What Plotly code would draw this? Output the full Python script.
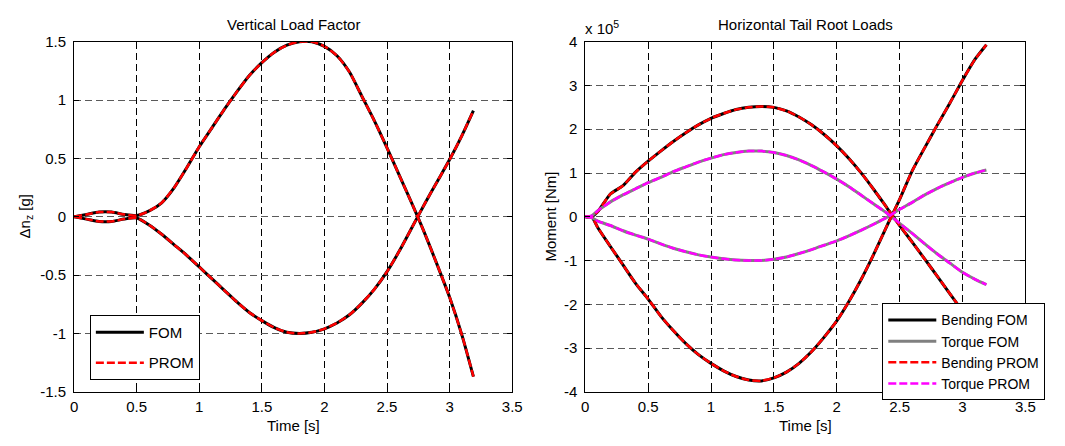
import plotly.graph_objects as go

# ---------------- data ----------------
# Left panel: vertical load factor increment [g]
t_nz = [0.0, 0.1, 0.2, 0.3, 0.4, 0.5, 0.6, 0.7, 0.8, 0.9, 1.0, 1.1, 1.2, 1.3, 1.4, 1.5,
        1.6, 1.7, 1.8, 1.9, 2.0, 2.1, 2.2, 2.3, 2.4, 2.5, 2.6, 2.7, 2.8, 2.9, 3.0, 3.1, 3.19]
nz_fom_up = [0.0, 0.02, 0.04, 0.04, 0.02, 0.01, 0.05, 0.12, 0.25, 0.42, 0.6, 0.76, 0.92, 1.07,
             1.21, 1.32, 1.41, 1.47, 1.5, 1.5, 1.46, 1.38, 1.24, 1.03, 0.82, 0.59, 0.35, 0.11,
             -0.14, -0.41, -0.69, -1.02, -1.37]
nz_fom_dn = [0.0, -0.02, -0.04, -0.04, -0.02, -0.01, -0.07, -0.15, -0.24, -0.33, -0.43, -0.53,
             -0.63, -0.73, -0.82, -0.89, -0.95, -0.99, -1.0, -0.99, -0.96, -0.91, -0.84, -0.74,
             -0.62, -0.47, -0.29, -0.09, 0.11, 0.3, 0.49, 0.7, 0.91]
nz_prom_up = [0.0, 0.02, 0.04, 0.04, 0.02, 0.01, 0.05, 0.12, 0.25, 0.42, 0.6, 0.76, 0.92, 1.07,
              1.21, 1.32, 1.41, 1.47, 1.5, 1.5, 1.46, 1.38, 1.24, 1.03, 0.82, 0.59, 0.35, 0.11,
              -0.14, -0.41, -0.69, -1.02, -1.37]
nz_prom_dn = [0.0, -0.02, -0.04, -0.04, -0.02, -0.01, -0.07, -0.15, -0.24, -0.33, -0.43, -0.53,
              -0.63, -0.73, -0.82, -0.89, -0.95, -0.99, -1.0, -0.99, -0.96, -0.91, -0.84, -0.74,
              -0.62, -0.47, -0.29, -0.09, 0.11, 0.3, 0.49, 0.7, 0.91]

# Right panel: horizontal tail root moments [x 1e5 Nm]
t_ht = [0.0, 0.05, 0.1, 0.2, 0.3, 0.4, 0.5, 0.6, 0.7, 0.8, 0.9, 1.0, 1.1, 1.2, 1.3, 1.4, 1.5,
        1.6, 1.7, 1.8, 1.9, 2.0, 2.1, 2.2, 2.3, 2.4, 2.5, 2.6, 2.7, 2.8, 2.9, 3.0, 3.1, 3.19]
bend_fom_a = [0.0, 0.0, 0.12, 0.52, 0.71, 1.02, 1.27, 1.5, 1.72, 1.92, 2.1, 2.25, 2.36, 2.45,
              2.5, 2.52, 2.5, 2.42, 2.28, 2.1, 1.88, 1.62, 1.32, 0.98, 0.6, 0.2, -0.2, -0.58,
              -0.97, -1.36, -1.76, -2.15, -2.5, -2.8]
bend_fom_b = [0.0, 0.0, -0.25, -0.68, -1.1, -1.52, -1.88, -2.27, -2.6, -2.9, -3.15, -3.35, -3.52,
              -3.65, -3.73, -3.75, -3.68, -3.55, -3.35, -3.08, -2.75, -2.38, -1.92, -1.4, -0.82,
              -0.2, 0.4, 1.05, 1.58, 2.1, 2.6, 3.12, 3.6, 3.93]
torq_fom_a = [0.0, 0.02, 0.14, 0.34, 0.5, 0.64, 0.78, 0.9, 1.03, 1.14, 1.25, 1.34, 1.42, 1.47,
              1.5, 1.5, 1.47, 1.4, 1.3, 1.17, 1.02, 0.86, 0.68, 0.48, 0.28, 0.08, -0.15, -0.38,
              -0.62, -0.85, -1.06, -1.27, -1.43, -1.55]
torq_fom_b = [0.0, -0.02, -0.1, -0.2, -0.32, -0.42, -0.51, -0.62, -0.72, -0.8, -0.87, -0.92,
              -0.96, -0.99, -1.0, -1.0, -0.97, -0.92, -0.84, -0.75, -0.65, -0.55, -0.43, -0.3,
              -0.16, -0.01, 0.17, 0.33, 0.5, 0.65, 0.78, 0.9, 1.0, 1.07]
bend_prom_a = [0.0, 0.0, 0.12, 0.52, 0.71, 1.02, 1.27, 1.5, 1.72, 1.92, 2.1, 2.25, 2.36, 2.45,
               2.5, 2.52, 2.5, 2.42, 2.28, 2.1, 1.88, 1.62, 1.32, 0.98, 0.6, 0.2, -0.2, -0.58,
               -0.97, -1.36, -1.76, -2.15, -2.5, -2.8]
bend_prom_b = [0.0, 0.0, -0.25, -0.68, -1.1, -1.52, -1.88, -2.27, -2.6, -2.9, -3.15, -3.35, -3.52,
               -3.65, -3.73, -3.75, -3.68, -3.55, -3.35, -3.08, -2.75, -2.38, -1.92, -1.4, -0.82,
               -0.2, 0.4, 1.05, 1.58, 2.1, 2.6, 3.12, 3.6, 3.93]
torq_prom_a = [0.0, 0.02, 0.14, 0.34, 0.5, 0.64, 0.78, 0.9, 1.03, 1.14, 1.25, 1.34, 1.42, 1.47,
               1.5, 1.5, 1.47, 1.4, 1.3, 1.17, 1.02, 0.86, 0.68, 0.48, 0.28, 0.08, -0.15, -0.38,
               -0.62, -0.85, -1.06, -1.27, -1.43, -1.55]
torq_prom_b = [0.0, -0.02, -0.1, -0.2, -0.32, -0.42, -0.51, -0.62, -0.72, -0.8, -0.87, -0.92,
               -0.96, -0.99, -1.0, -1.0, -0.97, -0.92, -0.84, -0.75, -0.65, -0.55, -0.43, -0.3,
               -0.16, -0.01, 0.17, 0.33, 0.5, 0.65, 0.78, 0.9, 1.0, 1.07]

x_ticks = [0, 0.5, 1, 1.5, 2, 2.5, 3, 3.5]
x_ticklabels = ["0", "0.5", "1", "1.5", "2", "2.5", "3", "3.5"]
nz_ticks = [-1.5, -1, -0.5, 0, 0.5, 1, 1.5]
nz_ticklabels = ["-1.5", "-1", "-0.5", "0", "0.5", "1", "1.5"]
m_ticks = [-4, -3, -2, -1, 0, 1, 2, 3, 4]
m_ticklabels = ["-4", "-3", "-2", "-1", "0", "1", "2", "3", "4"]

# ---------------- figure ----------------
W, H = 1065, 446
FONT = "Liberation Sans, Arial, Helvetica, sans-serif"


def px(x):
    return x / W


def py(y):
    return 1 - y / H


def pair(t, a, b):
    return t + [None] + t, a + [None] + b


fig = go.Figure()

# left panel
xs, ys = pair(t_nz, nz_fom_up, nz_fom_dn)
fig.add_trace(go.Scatter(x=xs, y=ys, mode="lines", name="FOM", xaxis="x", yaxis="y",
                         line=dict(color="#000000", width=3, shape="spline", smoothing=0.6),
                         legend="legend", legendgroup="a"))
xs, ys = pair(t_nz, nz_prom_up, nz_prom_dn)
fig.add_trace(go.Scatter(x=xs, y=ys, mode="lines", name="PROM", xaxis="x", yaxis="y",
                         line=dict(color="#ff0000", width=2.5, dash="8px,3px", shape="spline", smoothing=0.6),
                         legend="legend", legendgroup="b"))

# right panel
xs, ys = pair(t_ht, bend_fom_a, bend_fom_b)
fig.add_trace(go.Scatter(x=xs, y=ys, mode="lines", name="Bending FOM", xaxis="x2", yaxis="y2",
                         line=dict(color="#000000", width=3, shape="spline", smoothing=0.6),
                         legend="legend2"))
xs, ys = pair(t_ht, torq_fom_a, torq_fom_b)
fig.add_trace(go.Scatter(x=xs, y=ys, mode="lines", name="Torque FOM", xaxis="x2", yaxis="y2",
                         line=dict(color="#808080", width=3, shape="spline", smoothing=0.6),
                         legend="legend2"))
xs, ys = pair(t_ht, bend_prom_a, bend_prom_b)
fig.add_trace(go.Scatter(x=xs, y=ys, mode="lines", name="Bending PROM", xaxis="x2", yaxis="y2",
                         line=dict(color="#ff0000", width=2.5, dash="8px,3px", shape="spline", smoothing=0.6),
                         legend="legend2"))
xs, ys = pair(t_ht, torq_prom_a, torq_prom_b)
fig.add_trace(go.Scatter(x=xs, y=ys, mode="lines", name="Torque PROM", xaxis="x2", yaxis="y2",
                         line=dict(color="#ff00ff", width=2.5, dash="8px,3px", shape="spline", smoothing=0.6),
                         legend="legend2"))

tickfont = dict(family=FONT, size=15, color="#000000")


def xaxis(domain, anchor):
    return dict(domain=domain, anchor=anchor, range=[0, 3.5], tickmode="array",
                tickvals=x_ticks, ticktext=x_ticklabels, ticks="inside", ticklen=5,
                tickcolor="#000000", showline=True, linecolor="#000000", linewidth=1,
                mirror="ticks", showgrid=True, gridcolor="#000000", griddash="7px,4px",
                gridwidth=1, zeroline=False, tickfont=tickfont, ticklabelstandoff=1,
                fixedrange=True)


def yaxis(domain, anchor, rng, vals, labels):
    return dict(domain=domain, anchor=anchor, range=rng, tickmode="array",
                tickvals=vals, ticktext=labels, ticks="inside", ticklen=5,
                tickcolor="#000000", showline=True, linecolor="#000000", linewidth=1,
                mirror="ticks", showgrid=True, gridcolor="#5a5a5a", griddash="7px,4px",
                gridwidth=1, zeroline=False, tickfont=tickfont, ticklabelstandoff=4,
                fixedrange=True)


ydom = [py(398), py(34)]
fig.update_layout(
    width=W, height=H,
    margin=dict(l=0, r=0, t=0, b=0),
    paper_bgcolor="#ffffff", plot_bgcolor="#ffffff",
    font=dict(family=FONT, size=15, color="#000000"),
    xaxis=xaxis([px(71), px(515)], "y"),
    yaxis=yaxis(ydom, "x", [-1.5, 1.5], nz_ticks, nz_ticklabels),
    xaxis2=xaxis([px(589), px(1035)], "y2"),
    yaxis2=yaxis(ydom, "x2", [-4, 4], m_ticks, m_ticklabels),
    legend=dict(x=px(87), y=py(318), xanchor="left", yanchor="top",
                bgcolor="#ffffff", bordercolor="#000000", borderwidth=1,
                font=dict(family=FONT, size=15, color="#000000"),
                traceorder="grouped", tracegroupgap=8, itemwidth=48),
    legend2=dict(x=px(890), y=py(306), xanchor="left", yanchor="top",
                 bgcolor="#ffffff", bordercolor="#000000", borderwidth=1,
                 font=dict(family=FONT, size=14, color="#000000"),
                 tracegroupgap=0, itemwidth=48),
    showlegend=True,
)

annots = [
    dict(text="Vertical Load Factor", x=px(293), y=py(16)),
    dict(text="Horizontal Tail Root Loads", x=px(812), y=py(16)),
    dict(text="Time [s]", x=px(293), y=py(433)),
    dict(text="Time [s]", x=px(812), y=py(433)),
    dict(text="\u0394n<sub>z</sub> [g]", x=px(22), y=py(216), textangle=-90),
    dict(text="Moment [Nm]", x=px(554), y=py(216), textangle=-90),
    dict(text="x 10<sup>5</sup>", x=px(587), y=py(19), xanchor="left"),
]
for a in annots:
    base = dict(xref="paper", yref="paper", showarrow=False, xanchor="center",
                yanchor="middle", font=dict(family=FONT, size=15, color="#000000"))
    base.update(a)
    fig.add_annotation(**base)

fig.write_html("out.html", include_plotlyjs=True, config={"displayModeBar": False})
